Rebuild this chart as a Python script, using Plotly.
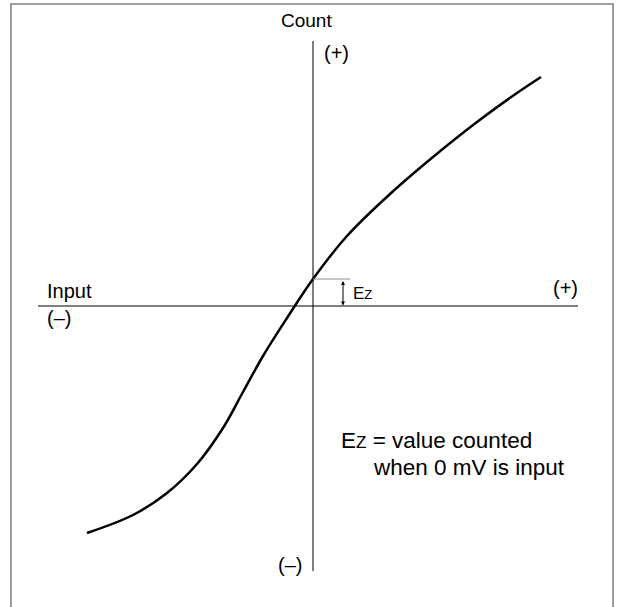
import plotly.graph_objects as go

# curve (input vs count, arbitrary units, origin at axes crossing)
input_vals = [-22.6, -18.0, -14.6, -11.6, -9.0, -7.0, -5.0, -2.6, 0.0,
              3.4, 7.7, 12.0, 16.4, 20.4, 22.8]
count_vals = [-22.7, -20.9, -18.7, -15.8, -12.2, -8.6, -5.0, -1.2, 2.7,
              7.0, 11.2, 14.9, 18.4, 21.3, 22.9]
ez = 2.7  # count at 0 mV input

font = dict(family="Liberation Sans, Arial, sans-serif", size=20, color="black")

fig = go.Figure()
fig.add_trace(go.Scatter(x=input_vals, y=count_vals, mode="lines",
                         line=dict(color="black", width=2.5, shape="spline", smoothing=1.0),
                         hoverinfo="skip"))

shapes = [
    # frame
    dict(type="rect", x0=-30.2, x1=30.0, y0=-32, y1=30.2, line=dict(color="#808080", width=1.5)),
    # axes
    dict(type="line", x0=-27.5, x1=26.5, y0=0, y1=0, line=dict(color="black", width=1)),
    dict(type="line", x0=0, x1=0, y0=-26.5, y1=26.5, line=dict(color="black", width=1)),
    # Ez marker
    dict(type="line", x0=0, x1=3.7, y0=ez, y1=ez, line=dict(color="#888888", width=1)),
]

annotations = [
    dict(x=3.0, y=0.05, ax=3.0, ay=ez - 0.05, xref="x", yref="y", axref="x", ayref="y",
         showarrow=True, arrowhead=2, arrowside="end+start", arrowsize=0.8, arrowwidth=1,
         arrowcolor="black", text=""),
    dict(x=3.8, y=1.3, text="E<span style='font-size:13px'>Z</span>", xanchor="left",
         font=dict(font, size=17)),
    dict(x=-0.7, y=28.6, text="Count", font=dict(font, size=19)),
    dict(x=2.3, y=25.3, text="(+)", font=font),
    dict(x=-2.3, y=-25.9, text="(–)", font=font),
    dict(x=-26.8, y=1.5, text="Input", xanchor="left", font=font),
    dict(x=-26.8, y=-1.2, text="(–)", xanchor="left", font=font),
    dict(x=25.2, y=1.8, text="(+)", font=font),
    dict(x=2.6, y=-13.4, text="E<span style='font-size:17px'>Z</span> = value counted",
         xanchor="left", font=dict(font, size=22.5)),
    dict(x=5.8, y=-16.1, text="when 0 mV is input", xanchor="left", font=dict(font, size=22.5)),
]
for a in annotations:
    a.setdefault("showarrow", False)

fig.update_layout(
    width=620, height=607,
    margin=dict(l=0, r=0, t=0, b=0),
    paper_bgcolor="white", plot_bgcolor="white",
    showlegend=False,
    xaxis=dict(range=[-31.3, 30.7], visible=False, fixedrange=True),
    yaxis=dict(range=[-30.1, 30.6], visible=False, fixedrange=True),
    shapes=shapes,
    annotations=annotations,
)

# drop the page's default body margin so the figure sits at the window's corner
fig.write_html("out.html", config={"displayModeBar": False},
               post_script="document.body.style.margin='0';")
